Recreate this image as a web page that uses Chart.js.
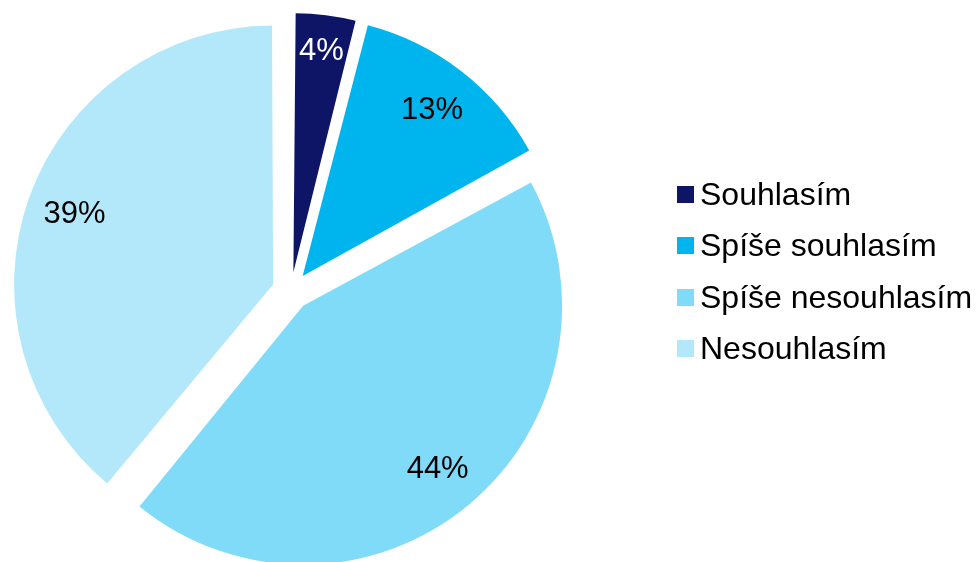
<!DOCTYPE html>
<html lang="cs">
<head>
<meta charset="utf-8">
<script src="https://cdn.jsdelivr.net/npm/chart.js@4/dist/chart.umd.min.js"></script>
<style>
  html, body { margin: 0; padding: 0; background: #fff; }
  #wrap { position: relative; width: 976px; height: 562px; }
  #legend {
    position: absolute; left: 677px; top: 169px;
    font-family: Arial, "Liberation Sans", sans-serif; font-size: 32px; color: #000;
  }
  .row { display: flex; align-items: center; height: 51.3px; white-space: nowrap; }
  .box { width: 17px; height: 17px; margin-right: 6px; flex: none; }
</style>
</head>
<body>
<div id="wrap">
  <canvas id="pie" width="976" height="562"></canvas>
  <div id="legend"></div>
</div>
<script>
// odpovědi a podíly v %
const labels = ['Souhlasím', 'Spíše souhlasím', 'Spíše nesouhlasím', 'Nesouhlasím'];
const values = [4, 13, 44, 39];
const colors = ['#0f1566', '#00b5ee', '#80dbf8', '#b3e8fa'];

const pieRadius = 259;
// vzdálenost popisku od středu výseče (podíl poloměru)
const labelDist = [0.863, 0.815, 0.815, 0.815];

// Chart.js u vysunutých výsečí zvětšuje poloměr, tady to vracíme zpět,
// aby všechny výseče měly stejný poloměr
const evenRadius = {
    id: 'evenRadius',
    beforeDatasetsDraw(chart) {
        chart.getDatasetMeta(0).data.forEach(arc => {
            const shift = (arc.options.offset || 0) / 4;
            const circ = arc.endAngle - arc.startAngle;
            const fix = 1 - Math.sin(Math.min(Math.PI, circ));
            arc.outerRadius = pieRadius - shift * fix;
        });
    }
};

// popisky s procenty uvnitř výsečí
const pctLabels = {
    id: 'pctLabels',
    afterDatasetsDraw(chart) {
        const ctx = chart.ctx;
        const meta = chart.getDatasetMeta(0);
        ctx.save();
        ctx.font = '31px Arial, "Liberation Sans", sans-serif';
        ctx.textAlign = 'center';
        ctx.textBaseline = 'middle';
        meta.data.forEach((arc, i) => {
            const mid = (arc.startAngle + arc.endAngle) / 2;
            const shift = (arc.options.offset || 0) / 4;
            const r = pieRadius * labelDist[i];
            const x = arc.x + Math.cos(mid) * (shift + r);
            const y = arc.y + Math.sin(mid) * (shift + r);
            ctx.fillStyle = i === 0 ? '#fff' : '#000';
            ctx.fillText(values[i] + '%', x, y + 1);
        });
        ctx.restore();
    }
};

new Chart(document.getElementById('pie'), {
    type: 'pie',
    data: {
        labels: labels,
        datasets: [{
            data: values,
            backgroundColor: colors,
            borderWidth: 0,
            offset: 76,
            hoverOffset: 76
        }]
    },
    options: {
        responsive: false,
        animation: false,
        radius: pieRadius,
        layout: { padding: { left: 0, right: 394, top: 20, bottom: 0 } },
        plugins: {
            legend: { display: false },
            tooltip: { enabled: false }
        }
    },
    plugins: [evenRadius, pctLabels]
});

// legenda vpravo
document.getElementById('legend').innerHTML = labels
    .map((l, i) => `<div class="row"><span class="box" style="background:${colors[i]}"></span>${l}</div>`)
    .join('');
</script>
</body>
</html>
